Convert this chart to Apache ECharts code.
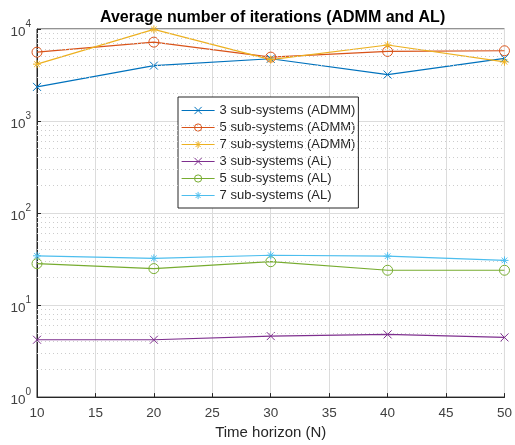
<!DOCTYPE html>
<html>
<head>
<meta charset="utf-8">
<script src="https://cdn.jsdelivr.net/npm/echarts@6/dist/echarts.min.js"></script>
<style>
  html, body { margin: 0; padding: 0; background: #fff; }
  #chart { width: 515px; height: 445px; }
</style>
</head>
<body>
<div id="chart"></div>
<script>
// horizons N
const horizons = [10, 20, 30, 40, 50];

// average iterations
const admm3 = [2350, 4000, 4750, 3200, 4800];
const admm5 = [5600, 7200, 4950, 5700, 5800];
const admm7 = [4150, 9900, 4650, 6700, 4400];
const al3 = [4.2, 4.2, 4.6, 4.8, 4.45];
const al5 = [28.2, 24.9, 29.6, 23.9, 23.9];
const al7 = [34.3, 32.2, 34.8, 34.0, 30.6];

const names = [
  '3 sub-systems (ADMM)', '5 sub-systems (ADMM)', '7 sub-systems (ADMM)',
  '3 sub-systems (AL)', '5 sub-systems (AL)', '7 sub-systems (AL)'
];
const colors = ['#0072BD', '#D95319', '#EDB120', '#7E2F8E', '#77AC30', '#4DBEEE'];

const crossMark = 'path://M0,0L10,10M10,0L0,10';
const starMark = 'path://M5,0L5,10M0,5L10,5M1.5,1.5L8.5,8.5M8.5,1.5L1.5,8.5';
const ringMark = 'path://M10,5A5,5,0,1,1,0,5A5,5,0,1,1,10,5Z';
const marks = [crossMark, ringMark, starMark, crossMark, ringMark, starMark];
const values = [admm3, admm5, admm7, al3, al5, al7];

// dotted minor grid at 2..9 x 10^k
const minorLines = [];
for (let k = 0; k < 4; k++) {
  for (let m = 2; m <= 9; m++) minorLines.push({ yAxis: m * Math.pow(10, k) });
}

const chart = echarts.init(document.getElementById('chart'));

const series = values.map((vals, i) => ({
  name: names[i],
  type: 'line',
  data: horizons.map((n, j) => [n, vals[j]]),
  symbol: marks[i],
  symbolSize: marks[i] === ringMark ? 10 : 8,
  showSymbol: true,
  lineStyle: { color: colors[i], width: 1.2 },
  itemStyle: { color: 'rgba(0,0,0,0)', borderColor: colors[i], borderWidth: 1 },
  emphasis: { disabled: true },
  z: 3
}));

series.unshift({
  name: 'minor',
  type: 'line',
  data: [],
  silent: true,
  z: 1,
  markLine: {
    silent: true,
    symbol: 'none',
    label: { show: false },
    lineStyle: { color: '#cccccc', type: [1, 3], width: 1 },
    emphasis: { disabled: true },
    data: minorLines
  }
});

chart.setOption({
  animation: false,
  textStyle: { fontFamily: 'Liberation Sans, Arial, sans-serif' },
  title: {
    text: 'Average number of iterations (ADMM and AL)',
    left: 95,
    top: 5,
    textStyle: { fontSize: 16, fontWeight: 'bold', color: '#000' }
  },
  grid: {
    left: 37, right: 10, top: 29, bottom: 46,
    show: true, borderColor: '#262626', borderWidth: 1
  },
  legend: {
    data: names,
    orient: 'vertical',
    left: 178,
    top: 97,
    backgroundColor: '#fff',
    borderColor: '#262626',
    borderWidth: 1,
    padding: [7, 3, 6, 3],
    itemWidth: 33,
    itemHeight: 9,
    itemGap: 4,
    itemStyle: { borderWidth: 1 },
    lineStyle: { width: 1.2 },
    textStyle: { fontSize: 13, color: '#262626', lineHeight: 13 }
  },
  xAxis: {
    type: 'value',
    min: 10, max: 50, interval: 5,
    name: 'Time horizon (N)',
    nameLocation: 'middle',
    nameGap: 27,
    nameTextStyle: { fontSize: 15, color: '#262626' },
    axisLine: { show: true, lineStyle: { color: '#262626' } },
    axisTick: { inside: true, length: 4, lineStyle: { color: '#262626' } },
    axisLabel: { fontSize: 13.5, color: '#404040', margin: 9 },
    splitLine: { show: true, lineStyle: { color: '#dcdcdc', width: 1 } }
  },
  yAxis: {
    type: 'log',
    logBase: 10,
    min: 1, max: 10000,
    axisLine: { show: true, lineStyle: { color: '#262626' } },
    axisTick: { inside: true, length: 4, lineStyle: { color: '#262626' } },
    axisLabel: {
      color: '#404040',
      margin: 6,
      formatter: v => '{b|10}{e|' + Math.round(Math.log10(v)) + '}',
      rich: {
        b: { fontSize: 13.5, color: '#404040', verticalAlign: 'bottom', padding: [6, 0, 0, 0] },
        e: { fontSize: 10, color: '#404040', verticalAlign: 'top', padding: [0, 0, 6, 0] }
      }
    },
    splitLine: { show: true, lineStyle: { color: '#dcdcdc', width: 1 } }
  },
  series: series
});
</script>
</body>
</html>
